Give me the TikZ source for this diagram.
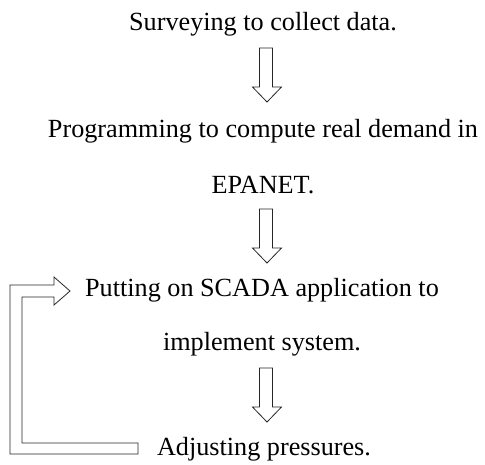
\documentclass[tikz,border=0pt]{standalone}
\usepackage{fontspec}
\setmainfont{Liberation Serif}
\begin{document}
\begin{tikzpicture}[x=1pt,y=-1pt,
  txt/.style={anchor=base,inner sep=0pt,font=\fontsize{26.2}{30}\selectfont},
  blockarrow/.style={draw=black!85,line width=0.8pt,fill=white,line join=miter}]
\useasboundingbox (0,0) rectangle (485,464);
\node[txt] (t1) at (263,30) {Surveying to collect data.};
\node[txt] (t2a) at (263,137) {Programming to compute real demand in};
\node[txt] (t2b) at (263,193) {EPANET.};
\node[txt] (t3a) at (262,296) {Putting on SCADA application to};
\node[txt] (t3b) at (262,350) {implement system.};
\node[txt] (t4) at (264,455) {Adjusting pressures.};
% down arrows
\foreach \top/\base/\tip in {48/87/102, 209/248/263, 368/407/422}{
  \draw[blockarrow] (259.5,\top) -- (272.5,\top) -- (272.5,\base) -- (281.5,\base)
     -- (267,\tip) -- (252.5,\base) -- (259.5,\base) -- cycle;
}
% feedback arrow
\draw[blockarrow] (138,454) -- (10,454) -- (10,285) -- (54,285) -- (54,277)
  -- (70,291) -- (54,305) -- (54,297) -- (22,297) -- (22,443) -- (138,443) -- cycle;
\end{tikzpicture}
\end{document}
